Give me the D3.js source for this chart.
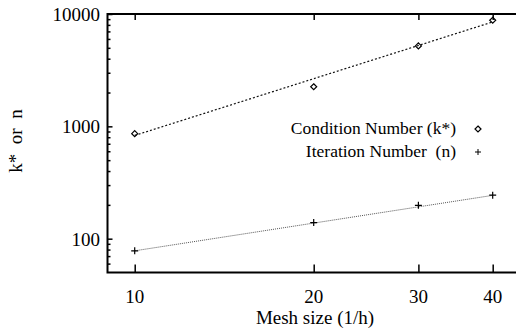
<!DOCTYPE html>
<html>
<head>
<meta charset="utf-8">
<script src="https://cdn.jsdelivr.net/npm/d3@7"></script>
<style>
  html, body { margin: 0; padding: 0; background: #fff; }
</style>
</head>
<body>
<svg width="516" height="328"></svg>
<script>
// mesh sizes (1/h) and the two measured series
const meshSizes = [10, 20, 30, 40];
const conditionNumber = [860, 2250, 5200, 8800];
const iterationNumber = [78, 139, 198, 244];

// fitted trend lines (end points)
const conditionFit = [[10, 830], [40, 8500]];
const iterationFit = [[10, 78], [40, 243]];

const yMajor = [100, 1000, 10000];
const yMinor = [60, 70, 80, 90, 200, 300, 400, 500, 600, 700, 800, 900,
  2000, 3000, 4000, 5000, 6000, 7000, 8000, 9000];
const legendLabels = ['Condition Number (k*)', 'Iteration Number  (n)'];

const serif = "'Liberation Serif', 'Times New Roman', 'DejaVu Serif', serif";

const svg = d3.select('svg').attr('font-family', serif);

const plotLeft = 107.5;
const plotTop = 14;
const plotBottom = 272.5;
const pxPerDecade = 594.6;

const x = d3.scaleLog()
  .domain([9, 45])
  .range([plotLeft, plotLeft + pxPerDecade * Math.log10(45 / 9)]);
const y = d3.scaleLog()
  .domain([50, 10000])
  .range([plotBottom, plotTop]);

const plotRight = x.range()[1];

// frame
svg.append('path')
  .attr('d', `M${plotRight},${plotTop}H${plotLeft}V${plotBottom}H${plotRight}`)
  .attr('fill', 'none')
  .attr('stroke', '#000')
  .attr('stroke-width', 2);

// y ticks (inside, on the left)
const yAxis = svg.append('g').attr('transform', `translate(${plotLeft},0)`);
yAxis.call(d3.axisRight(y).tickValues(yMajor).tickSize(5).tickFormat(''));
yAxis.append('g').call(d3.axisRight(y).tickValues(yMinor).tickSize(3).tickFormat(''));

// x ticks, bottom (pointing up) and top (pointing down)
const xBottom = svg.append('g').attr('transform', `translate(0,${plotBottom})`);
xBottom.call(d3.axisTop(x).tickValues(meshSizes).tickSize(8).tickFormat(''));
const xTop = svg.append('g').attr('transform', `translate(0,${plotTop})`);
xTop.call(d3.axisBottom(x).tickValues(meshSizes).tickSize(6).tickFormat(''));
svg.selectAll('.domain').remove();
svg.selectAll('.tick line').attr('stroke-width', 1.5);

svg.append('g')
  .selectAll('text')
  .data(yMajor)
  .join('text')
  .attr('x', 100)
  .attr('y', (d) => y(d) + 7)
  .attr('text-anchor', 'end')
  .attr('font-size', 19)
  .text((d) => d);

svg.append('g')
  .selectAll('text')
  .data(meshSizes)
  .join('text')
  .attr('x', (d) => x(d))
  .attr('y', 303)
  .attr('text-anchor', 'middle')
  .attr('font-size', 19)
  .text((d) => d);

// axis titles
svg.append('text')
  .attr('x', 315)
  .attr('y', 324)
  .attr('text-anchor', 'middle')
  .attr('font-size', 19)
  .text('Mesh size (1/h)');

svg.append('text')
  .attr('transform', 'translate(22,141) rotate(-90)')
  .attr('text-anchor', 'middle')
  .attr('font-size', 19)
  .style('white-space', 'pre')
  .text('k*  or  n');

// fit lines
const line = d3.line().x((d) => x(d[0])).y((d) => y(d[1]));

svg.append('path')
  .attr('d', line(conditionFit))
  .attr('fill', 'none')
  .attr('stroke', '#111')
  .attr('stroke-width', 1.2)
  .attr('stroke-dasharray', '2,2');

svg.append('path')
  .attr('d', line(iterationFit))
  .attr('fill', 'none')
  .attr('stroke', '#555')
  .attr('stroke-width', 1)
  .attr('stroke-dasharray', '1,1');

// markers
const diamond = (cx, cy, r) => `M${cx},${cy - r}L${cx + r},${cy}L${cx},${cy + r}L${cx - r},${cy}Z`;
const plus = (cx, cy, r) => `M${cx - r},${cy}H${cx + r}M${cx},${cy - r}V${cy + r}`;

svg.append('g')
  .selectAll('path')
  .data(meshSizes.map((m, i) => [m, conditionNumber[i]]))
  .join('path')
  .attr('d', (d) => diamond(x(d[0]), y(d[1]), 3))
  .attr('fill', 'none')
  .attr('stroke', '#000')
  .attr('stroke-width', 1.2);

svg.append('g')
  .selectAll('path')
  .data(meshSizes.map((m, i) => [m, iterationNumber[i]]))
  .join('path')
  .attr('d', (d) => plus(x(d[0]), y(d[1]), 3.5))
  .attr('fill', 'none')
  .attr('stroke', '#000')
  .attr('stroke-width', 1.2);

// legend
const legend = svg.append('g');
legend.selectAll('text')
  .data(legendLabels)
  .join('text')
  .attr('x', 456)
  .attr('y', (d, i) => 134 + i * 23)
  .attr('text-anchor', 'end')
  .attr('font-size', 17.5)
  .style('white-space', 'pre')
  .text((d) => d);

legend.append('path')
  .attr('d', diamond(478, 129, 3))
  .attr('fill', 'none')
  .attr('stroke', '#000')
  .attr('stroke-width', 1.2);
legend.append('path')
  .attr('d', plus(478, 152, 3))
  .attr('fill', 'none')
  .attr('stroke', '#000')
  .attr('stroke-width', 1);
</script>
</body>
</html>
